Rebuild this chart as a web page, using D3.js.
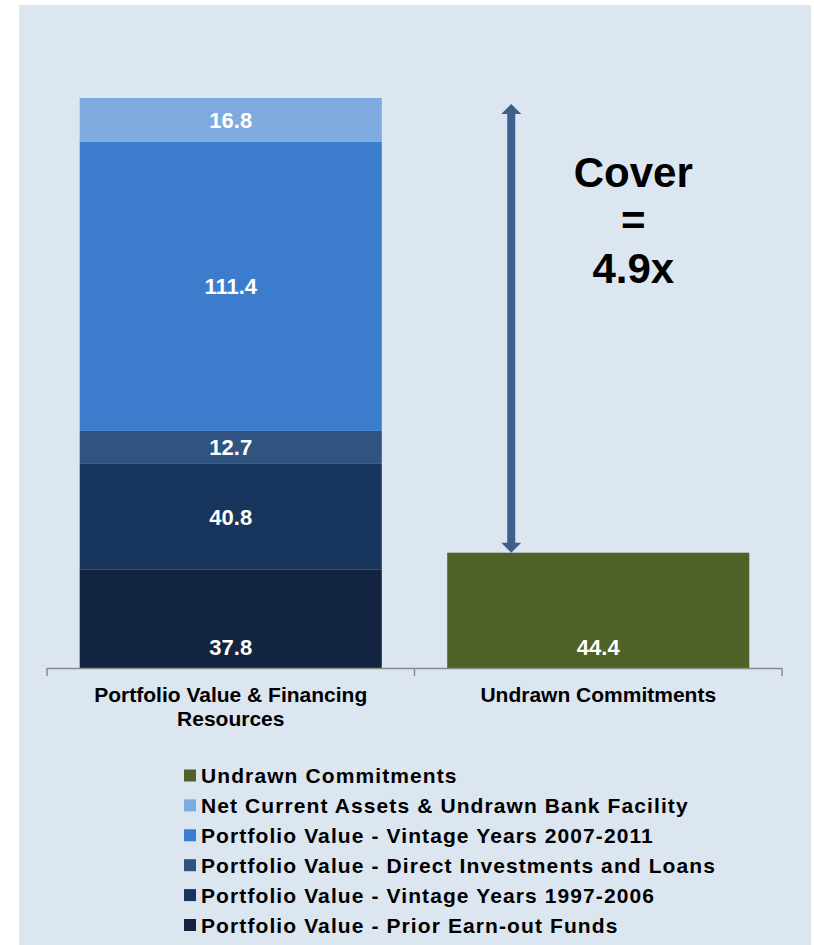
<!DOCTYPE html>
<html>
<head>
<meta charset="utf-8">
<script src="https://cdn.jsdelivr.net/npm/d3@7"></script>
<style>
  html, body { margin: 0; padding: 0; background: #ffffff; }
  svg { display: block; }
  text { font-family: "Liberation Sans", Arial, sans-serif; font-weight: bold; }
</style>
</head>
<body>
<svg id="chart" width="814" height="945"></svg>
<script>
// Category columns
const categories = ["Portfolio Value & Financing Resources", "Undrawn Commitments"];

// Stacked segments of the first column, bottom to top
const segmentNames = [
  "Portfolio Value - Prior Earn-out Funds",
  "Portfolio Value - Vintage Years 1997-2006",
  "Portfolio Value - Direct Investments and Loans",
  "Portfolio Value - Vintage Years 2007-2011",
  "Net Current Assets & Undrawn Bank Facility"
];
const segmentValues = [37.8, 40.8, 12.7, 111.4, 16.8];
const segmentColors = ["#12243f", "#18365d", "#2f547f", "#3b7dcc", "#7faadf"];

// Second column
const undrawnName = "Undrawn Commitments";
const undrawnValue = 44.4;
const undrawnColor = "#4f6228";

// Legend, top to bottom
const legendNames = [
  "Undrawn Commitments",
  "Net Current Assets & Undrawn Bank Facility",
  "Portfolio Value - Vintage Years 2007-2011",
  "Portfolio Value - Direct Investments and Loans",
  "Portfolio Value - Vintage Years 1997-2006",
  "Portfolio Value - Prior Earn-out Funds"
];
const legendColors = ["#4f6228", "#7faadf", "#3b7dcc", "#2f547f", "#18365d", "#12243f"];

const svg = d3.select("#chart");

// Panel background
svg.append("rect")
  .attr("x", 19).attr("y", 5).attr("width", 792).attr("height", 940)
  .attr("fill", "#dce6f1");

const total = d3.sum(segmentValues);

const x = d3.scaleBand()
  .domain(categories)
  .range([47, 782])
  .paddingInner(0.178)
  .paddingOuter(0.089);

const y = d3.scaleLinear()
  .domain([0, total])
  .range([668, 98]);

// Stack the first column
const stacked = [];
let acc = 0;
segmentValues.forEach((v, i) => {
  stacked.push({ name: segmentNames[i], value: v, y0: acc, y1: acc + v, color: segmentColors[i], index: i });
  acc += v;
});

const bars = svg.append("g");
bars.selectAll("rect.seg")
  .data(stacked)
  .join("rect")
  .attr("class", "seg")
  .attr("x", x(categories[0]))
  .attr("width", x.bandwidth())
  .attr("y", d => y(d.y1))
  .attr("height", d => y(d.y0) - y(d.y1))
  .attr("fill", d => d.color);

bars.append("rect")
  .attr("x", x(categories[1]))
  .attr("width", x.bandwidth())
  .attr("y", y(undrawnValue))
  .attr("height", y(0) - y(undrawnValue))
  .attr("fill", undrawnColor);

// Value labels: bottom segments sit at the base, others are centred
const fmt = d3.format(".1f");
bars.selectAll("text.seg")
  .data(stacked)
  .join("text")
  .attr("class", "seg")
  .attr("x", x(categories[0]) + x.bandwidth() / 2)
  .attr("y", d => d.index === 0 ? y(0) - 13 : (y(d.y0) + y(d.y1)) / 2 + 8)
  .attr("text-anchor", "middle")
  .attr("fill", "#ffffff")
  .attr("font-size", 22)
  .text(d => fmt(d.value));

bars.append("text")
  .attr("x", x(categories[1]) + x.bandwidth() / 2)
  .attr("y", y(0) - 13)
  .attr("text-anchor", "middle")
  .attr("fill", "#ffffff")
  .attr("font-size", 22)
  .text(fmt(undrawnValue));

// Category axis with boundary ticks
const axisG = svg.append("g");
const [r0, r1] = x.range();
axisG.append("line")
  .attr("x1", r0).attr("x2", r1)
  .attr("y1", y(0) + 0.5).attr("y2", y(0) + 0.5)
  .attr("stroke", "#8a8a8a").attr("stroke-width", 1.5);
const bounds = [r0, r0 + x.step(), r1];
axisG.selectAll("line.tick")
  .data(bounds)
  .join("line")
  .attr("class", "tick")
  .attr("x1", d => d).attr("x2", d => d)
  .attr("y1", y(0)).attr("y2", y(0) + 8)
  .attr("stroke", "#8a8a8a").attr("stroke-width", 1.5);

// Category labels, wrapped to the band width
const probe = svg.append("text").attr("font-size", 21).attr("visibility", "hidden");
function wrapLines(str, maxW) {
  const words = str.split(" ");
  const lines = [];
  let line = [];
  words.forEach(w => {
    const test = line.concat(w).join(" ");
    probe.text(test);
    if (probe.node().getComputedTextLength() > maxW && line.length) {
      lines.push(line.join(" "));
      line = [w];
    } else {
      line.push(w);
    }
  });
  lines.push(line.join(" "));
  return lines;
}
categories.forEach(c => {
  const lines = wrapLines(c, x.bandwidth() - 10);
  const t = svg.append("text")
    .attr("x", x(c) + x.bandwidth() / 2)
    .attr("y", y(0) + 34)
    .attr("text-anchor", "middle")
    .attr("font-size", 21)
    .attr("fill", "#000000");
  lines.forEach((l, i) => {
    t.append("tspan")
      .attr("x", x(c) + x.bandwidth() / 2)
      .attr("dy", i === 0 ? 0 : 24)
      .text(l);
  });
});
probe.remove();

// Cover arrow spanning from the undrawn bar to the top of the stack
const arrowX = x(categories[1]) + x.bandwidth() * 0.212;
const yTop = y(total) + 6;
const yBot = y(undrawnValue);
const headH = 10, headW = 10, shaftW = 4;
const arrow = svg.append("g").attr("fill", "#3b5f8e");
arrow.append("path")
  .attr("d", [
    `M${arrowX},${yTop}`,
    `L${arrowX + headW},${yTop + headH}`,
    `L${arrowX + shaftW},${yTop + headH}`,
    `L${arrowX + shaftW},${yBot - headH}`,
    `L${arrowX + headW},${yBot - headH}`,
    `L${arrowX},${yBot}`,
    `L${arrowX - headW},${yBot - headH}`,
    `L${arrowX - shaftW},${yBot - headH}`,
    `L${arrowX - shaftW},${yTop + headH}`,
    `L${arrowX - headW},${yTop + headH}`,
    "Z"
  ].join(""));

// Cover ratio annotation
const coverX = x(categories[1]) + x.bandwidth() * 0.616;
const cover = svg.append("text")
  .attr("x", coverX)
  .attr("y", 187)
  .attr("text-anchor", "middle")
  .attr("font-size", 42)
  .attr("fill", "#000000");
["Cover", "=", d3.format(".1f")(total / undrawnValue) + "x"].forEach((s, i) => {
  cover.append("tspan")
    .attr("x", coverX)
    .attr("dy", i === 0 ? 0 : 48)
    .text(s);
});

// Legend
const legend = svg.append("g");
const legendRows = legend.selectAll("g")
  .data(legendNames)
  .join("g")
  .attr("transform", (d, i) => `translate(184, ${775.5 + i * 29.9})`);
legendRows.append("rect")
  .attr("x", 0).attr("y", -6)
  .attr("width", 12).attr("height", 12)
  .attr("fill", (d, i) => legendColors[i]);
legendRows.append("text")
  .attr("x", 17)
  .attr("y", 7.5)
  .attr("font-size", 21)
  .attr("letter-spacing", 1.1)
  .attr("fill", "#000000")
  .text(d => d);
</script>
</body>
</html>
